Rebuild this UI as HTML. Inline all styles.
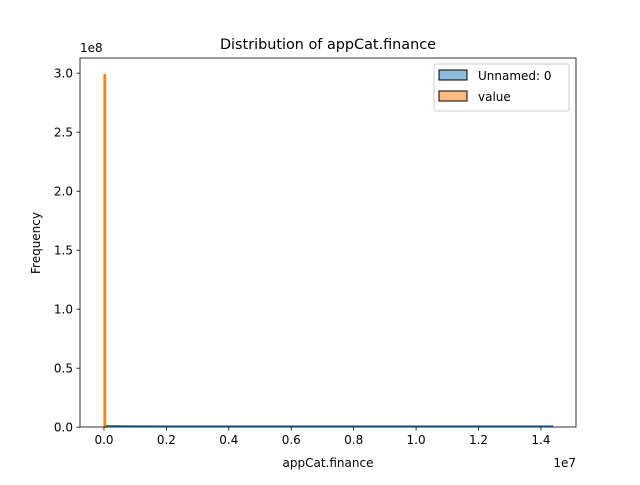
<!DOCTYPE html>
<html><head><meta charset="utf-8"><style>
body{margin:0;background:#fff;font-family:"Liberation Sans","DejaVu Sans",sans-serif}
text{font-family:"DejaVu Sans","Liberation Sans",sans-serif}
</style></head><body>
<svg id="chart" width="640" height="480" viewBox="0 0 640 480" xmlns="http://www.w3.org/2000/svg">
<rect width="640" height="480" fill="#fff"/>
<g id="marks"></g>
<g id="axes"></g>
<text x="328" y="49" font-size="14.4" text-anchor="middle">Distribution of appCat.finance</text>
<text x="328" y="467" font-size="12" text-anchor="middle">appCat.finance</text>
<text x="0" y="0" font-size="12" text-anchor="middle" transform="translate(40,243) rotate(-90)">Frequency</text>
<text x="576" y="467" font-size="12" text-anchor="end">1e7</text>
<text x="80" y="52" font-size="12">1e8</text>
<g>
<rect x="434" y="64" width="135" height="47" rx="2" fill="#fff" stroke="#ccc"/>
<rect x="439" y="70" width="28" height="10" fill="#8dbbdc" stroke="#000" stroke-width="1"/>
<text x="478" y="80" font-size="12">Unnamed: 0</text>
<rect x="439" y="91" width="28" height="10" fill="#ffbc85" stroke="#000" stroke-width="1"/>
<text x="478" y="101" font-size="12">value</text>
</g>
</svg>
<script>
const xTicks=[0,0.2,0.4,0.6,0.8,1.0,1.2,1.4];
const xTickLabels=["0.0","0.2","0.4","0.6","0.8","1.0","1.2","1.4"];
const yTicks=[0,0.5,1.0,1.5,2.0,2.5,3.0];
const yTickLabels=["0.0","0.5","1.0","1.5","2.0","2.5","3.0"];
// blue series (Unnamed: 0), in units of 1e7 for x and 1e8 for y
const blueX=[0,0.1,0.2,0.3,0.4,0.5,0.6,0.7,0.8,0.9,1.0,1.1,1.2,1.3,1.44];
const blueY=[0.012,0.010,0.009,0.009,0.009,0.009,0.009,0.009,0.009,0.009,0.009,0.009,0.009,0.009,0.009];
// orange series (value): one spike bin
const orangeBinStart=[-0.0003];
const orangeBinEnd=[0.0055];
const orangeY=[2.99];
const L=80,R=576,T=58,B=427;
const sx=v=>104+v*312.1;
const sy=v=>427.2-v*118;
const NS="http://www.w3.org/2000/svg";
const marks=document.getElementById('marks'),axes=document.getElementById('axes');
function mk(tag,attrs,parent){const e=document.createElementNS(NS,tag);for(const k in attrs)e.setAttribute(k,attrs[k]);parent.appendChild(e);return e;}
let d="M"+sx(blueX[0])+","+sy(0);
blueX.forEach((x,i)=>{d+=" L"+sx(x)+","+sy(blueY[i]);});
d+=" L"+sx(blueX[blueX.length-1])+","+sy(0)+" Z";
const ba=mk('path',{d:d,fill:'#1f77b4','fill-opacity':0.5},marks);


const bl=mk('polyline',{points:blueX.map((x,i)=>sx(x)+","+sy(blueY[i])).join(" "),fill:'none',stroke:'#1f77b4','stroke-width':1.5},marks);


orangeY.forEach((v,i)=>{
const x0=sx(orangeBinStart[i]),x1=sx(orangeBinEnd[i]);
const r=mk('rect',{x:x0,y:sy(v),width:x1-x0,height:sy(0)-sy(v),fill:'#ff7f0e','fill-opacity':0.9,stroke:'#ff7f0e','stroke-width':1},marks);


});
const fr=mk('rect',{x:L,y:T,width:R-L,height:B-T,fill:'none',stroke:'#000','stroke-width':0.8},axes);


xTicks.forEach((v,i)=>{const x=sx(v);
const t=mk('line',{x1:x,x2:x,y1:B,y2:B+3.5,stroke:'#000','stroke-width':0.8},axes);


const l=mk('text',{x:x,y:B+17,'font-size':12,'text-anchor':'middle'},axes);l.textContent=xTickLabels[i];

});
yTicks.forEach((v,i)=>{const y=sy(v);
const t=mk('line',{x1:L-3.5,x2:L,y1:y,y2:y,stroke:'#000','stroke-width':0.8},axes);


const l=mk('text',{x:L-7,y:y+4.5,'font-size':12,'text-anchor':'end'},axes);l.textContent=yTickLabels[i];

});
</script>
</body></html>
